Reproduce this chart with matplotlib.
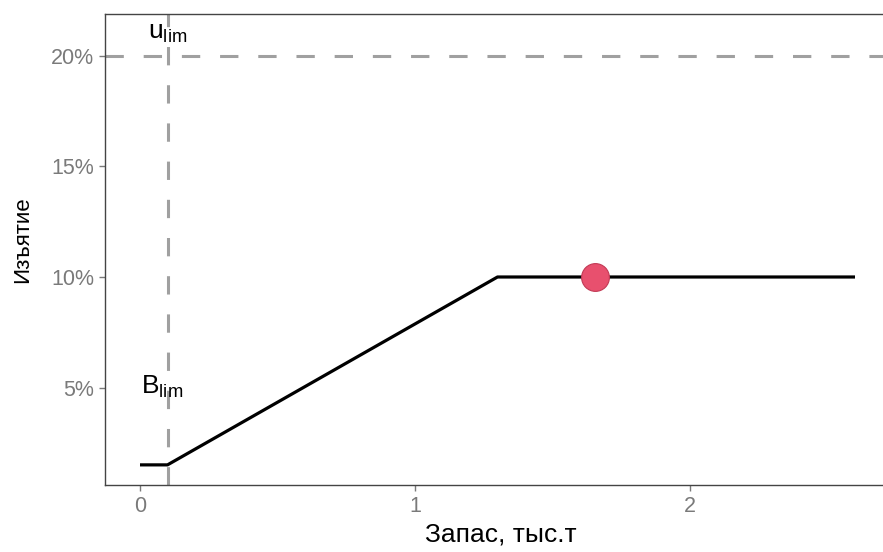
import matplotlib
matplotlib.use("Agg")
import matplotlib.pyplot as plt
from matplotlib.ticker import FuncFormatter

plt.rcParams['font.family'] = ['Liberation Sans', 'DejaVu Sans']

# harvest control rule
stock = [0.0, 0.1, 1.3, 2.6]
catch_rate = [0.015, 0.015, 0.10, 0.10]
cur_stock = [1.655]
cur_rate = [0.10]
b_lim = 0.1
u_lim = 0.20
x_ticks = [0, 1, 2]
y_ticks = [0.05, 0.10, 0.15, 0.20]

fig = plt.figure(figsize=(8.83, 5.52), dpi=100)
ax = fig.add_axes([0.119, 0.1214, 0.896, 0.8533])

gray = '#a0a0a0'
ax.axhline(u_lim, color=gray, lw=2.2, dashes=(6, 6.5), zorder=1)
ax.axvline(b_lim, color=gray, lw=2.2, dashes=(6, 6.5), zorder=1)
ax.plot(stock, catch_rate, color='black', lw=2.3, solid_capstyle='butt', zorder=2)
ax.plot(cur_stock, cur_rate, 'o', ms=20, color='#e8506e', mec='#c23a55', mew=0.8, zorder=3)

ax.text(b_lim, 0.2105, r'$\mathregular{u_{lim}}$', fontsize=19, ha='center', va='center')
ax.text(0.08, 0.0505, r'$\mathregular{B_{lim}}$', fontsize=19, ha='center', va='center')

ax.set_xlim(-0.127, 2.75)
ax.set_ylim(0.0059, 0.219)
ax.set_xticks(x_ticks)
ax.set_yticks(y_ticks)
ax.yaxis.set_major_formatter(FuncFormatter(lambda v, p: f'{v*100:.0f}%'))
ax.tick_params(colors='#7a7a7a', labelsize=15.5, length=4, width=1, pad=4)
for side in ['left', 'bottom', 'top', 'right']:
    ax.spines[side].set_color('#444444')
    ax.spines[side].set_linewidth(1)

ax.set_xlabel('Запас, тыс.т', fontsize=19, labelpad=4)
ax.set_ylabel('Изъятие', fontsize=16)
ax.yaxis.set_label_coords(-0.091, 0.52)

fig.savefig('out.png', dpi=100)
